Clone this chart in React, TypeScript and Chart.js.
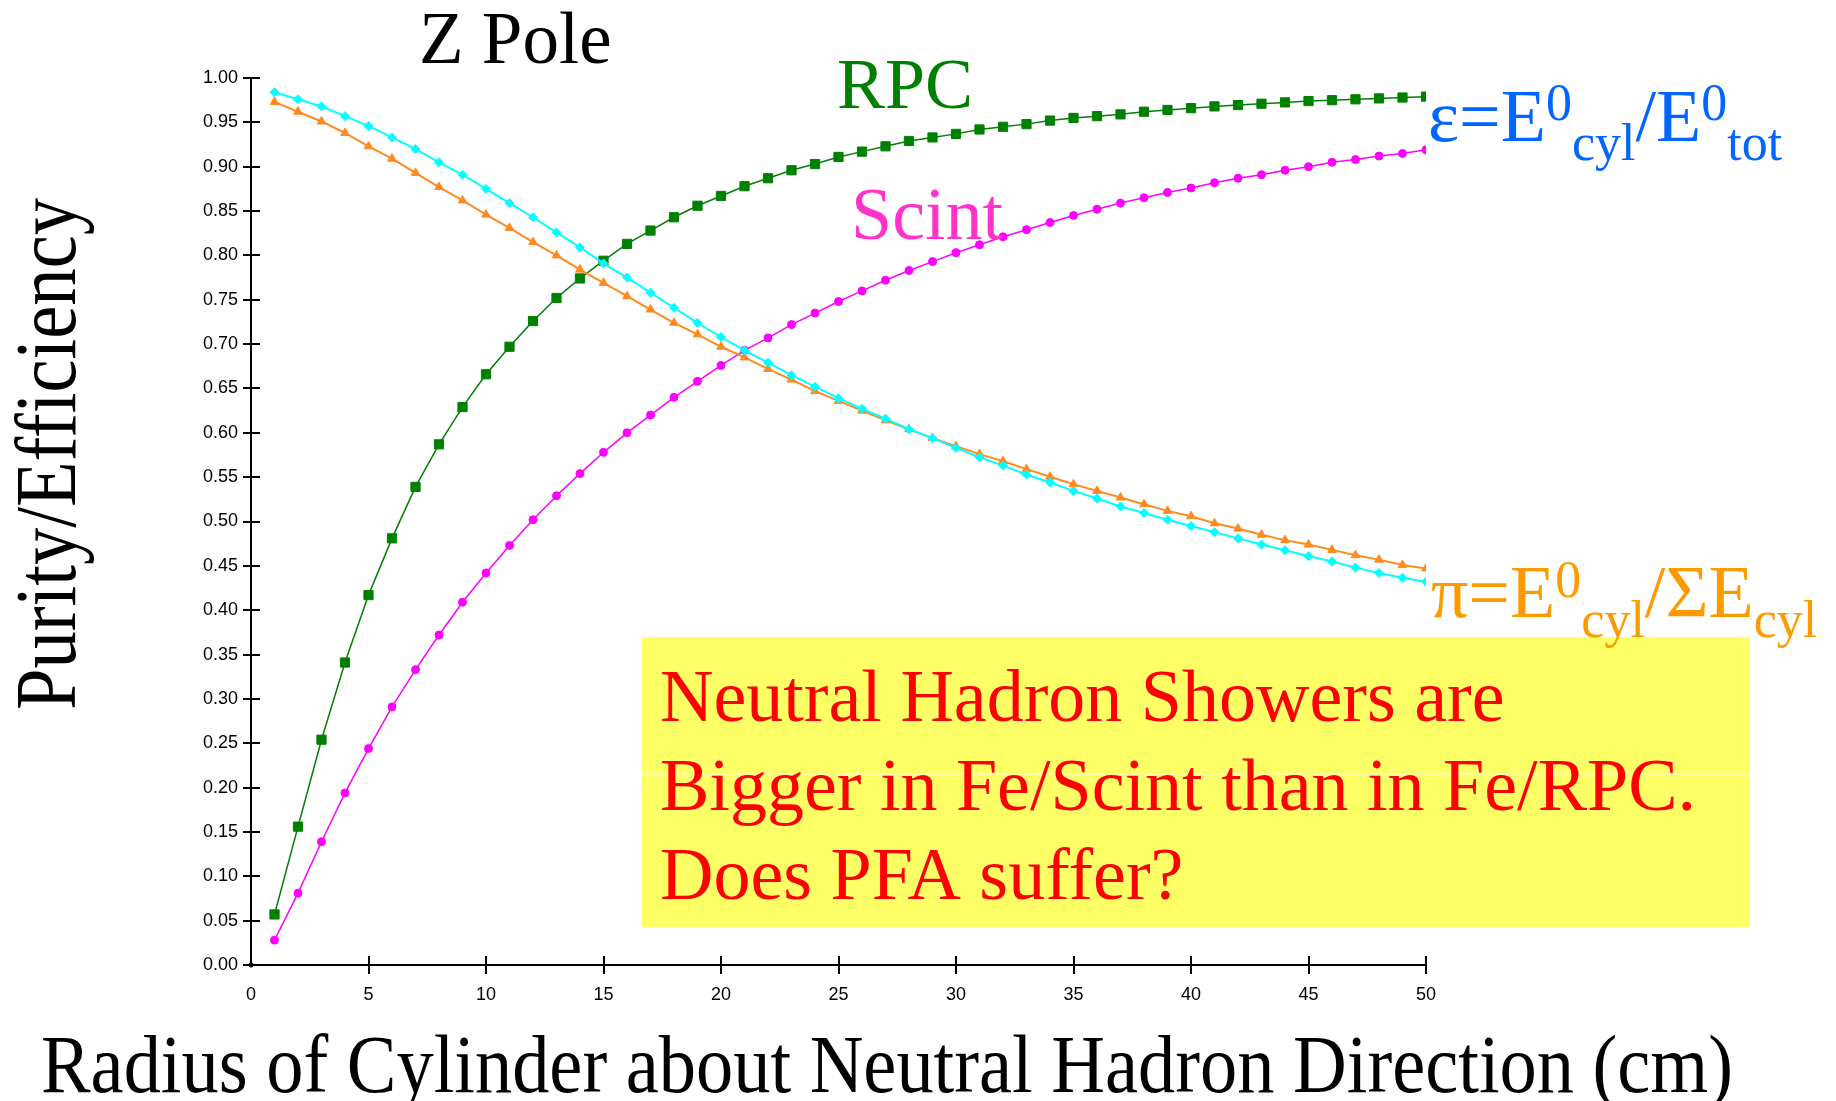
import React, { useEffect, useRef } from "react";
import { Chart, registerables } from "chart.js";

Chart.register(...registerables);

// ---------------- data ----------------
const radii = [
  1, 2, 3, 4, 5, 6, 7, 8, 9, 10, 11, 12, 13, 14, 15, 16, 17, 18, 19, 20, 21, 22, 23, 24, 25,
  26, 27, 28, 29, 30, 31, 32, 33, 34, 35, 36, 37, 38, 39, 40, 41, 42, 43, 44, 45, 46, 47, 48, 49, 50,
];

// RPC efficiency (green squares)
const rpcEff = [
  0.057, 0.156, 0.254, 0.341, 0.417, 0.481, 0.539, 0.587, 0.629, 0.666,
  0.697, 0.726, 0.752, 0.774, 0.794, 0.813, 0.828, 0.843, 0.856, 0.867,
  0.878, 0.887, 0.896, 0.903, 0.911, 0.917, 0.923, 0.929, 0.933, 0.937,
  0.942, 0.945, 0.948, 0.952, 0.955, 0.957, 0.959, 0.962, 0.964, 0.966,
  0.968, 0.9695, 0.971, 0.9725, 0.974, 0.975, 0.976, 0.977, 0.978, 0.979,
];

// Scint efficiency (magenta circles)
const scintEff = [
  0.028, 0.081, 0.139, 0.194, 0.244, 0.291, 0.333, 0.372, 0.409, 0.442,
  0.473, 0.502, 0.529, 0.554, 0.578, 0.600, 0.620, 0.640, 0.658, 0.676,
  0.693, 0.707, 0.722, 0.735, 0.748, 0.760, 0.772, 0.783, 0.793, 0.803,
  0.812, 0.821, 0.829, 0.837, 0.845, 0.852, 0.859, 0.865, 0.871, 0.876,
  0.882, 0.887, 0.891, 0.896, 0.900, 0.905, 0.908, 0.912, 0.915, 0.919,
];

// Scint purity (cyan diamonds)
const scintPur = [
  0.984, 0.976, 0.968, 0.957, 0.946, 0.933, 0.920, 0.905, 0.891, 0.875,
  0.859, 0.843, 0.826, 0.809, 0.791, 0.775, 0.758, 0.741, 0.724, 0.708,
  0.693, 0.679, 0.665, 0.652, 0.639, 0.627, 0.616, 0.604, 0.594, 0.583,
  0.5725, 0.563, 0.553, 0.544, 0.5345, 0.526, 0.517, 0.5095, 0.502, 0.495,
  0.488, 0.481, 0.474, 0.4676, 0.461, 0.455, 0.448, 0.442, 0.4366, 0.432,
];

// RPC purity (orange triangles)
const rpcPur = [
  0.973, 0.962, 0.951, 0.938, 0.923, 0.909, 0.893, 0.877, 0.862, 0.846,
  0.831, 0.815, 0.800, 0.784, 0.769, 0.754, 0.739, 0.724, 0.711, 0.697,
  0.685, 0.672, 0.660, 0.647, 0.636, 0.625, 0.614, 0.604, 0.594, 0.585,
  0.576, 0.568, 0.559, 0.5505, 0.542, 0.5345, 0.527, 0.5195, 0.512, 0.506,
  0.498, 0.492, 0.485, 0.479, 0.474, 0.468, 0.462, 0.457, 0.451, 0.447,
];

const xTicks = [0, 5, 10, 15, 20, 25, 30, 35, 40, 45, 50];
const yTicks = [
  0.0, 0.05, 0.1, 0.15, 0.2, 0.25, 0.3, 0.35, 0.4, 0.45, 0.5,
  0.55, 0.6, 0.65, 0.7, 0.75, 0.8, 0.85, 0.9, 0.95, 1.0,
];

const titleText = "Z Pole";
const rpcLabel = "RPC";
const scintLabel = "Scint";
const xTitle = "Radius of Cylinder about Neutral Hadron Direction (cm)";
const yTitle = "Purity/Efficiency";
const noteLines = [
  "Neutral Hadron Showers are",
  "Bigger in Fe/Scint than in Fe/RPC.",
  "Does PFA suffer?",
];
// [text, fontSize, baselineShift]
const effFormula: [string, number, number][] = [
  ["ε", 74, 0], ["=", 74, 0], ["E", 74, 0], ["0", 52, -21], ["cyl", 52, 19],
  ["/", 74, 0], ["E", 74, 0], ["0", 52, -21], ["tot", 52, 19],
];
const purFormula: [string, number, number][] = [
  ["π", 74, 0], ["=", 74, 0], ["E", 74, 0], ["0", 52, -20], ["cyl", 52, 20],
  ["/", 74, 0], ["Σ", 74, 0], ["E", 74, 0], ["cyl", 52, 20],
];

const SERIF = '"Liberation Serif", "Times New Roman", serif';
const SANS = '"Liberation Sans", Arial, sans-serif';

function drawRuns(ctx: CanvasRenderingContext2D, runs: [string, number, number][], x: number, y: number, color: string) {
  ctx.fillStyle = color;
  ctx.textAlign = "left";
  ctx.textBaseline = "alphabetic";
  let cx = x;
  for (const [t, size, dy] of runs) {
    ctx.font = `${size}px ${SERIF}`;
    ctx.fillText(t, cx, y + dy);
    cx += ctx.measureText(t).width;
  }
}

function drawStretched(
  ctx: CanvasRenderingContext2D, text: string, cx: number, baseline: number,
  size: number, targetWidth: number, rotate: boolean, color: string
) {
  ctx.save();
  ctx.font = `${size}px ${SERIF}`;
  ctx.fillStyle = color;
  ctx.textAlign = "center";
  ctx.textBaseline = "alphabetic";
  const w = ctx.measureText(text).width;
  const sx = targetWidth / w;
  if (rotate) {
    ctx.translate(baseline, cx);
    ctx.rotate(-Math.PI / 2);
  } else {
    ctx.translate(cx, baseline);
  }
  ctx.scale(sx, 1);
  ctx.fillText(text, 0, 0);
  ctx.restore();
}

const overlayPlugin = {
  id: "overlay",
  beforeDatasetsDraw(chart: any) {
    const { ctx, scales } = chart;
    const xs = scales.x, ys = scales.y;
    const x0 = xs.getPixelForValue(0);
    const x50 = xs.getPixelForValue(50);
    const y0 = ys.getPixelForValue(0);
    const y1 = ys.getPixelForValue(1);
    ctx.save();
    ctx.strokeStyle = "#000";
    ctx.lineWidth = 2;
    ctx.beginPath();
    ctx.moveTo(x0, y0);
    ctx.lineTo(x50, y0);
    ctx.moveTo(x0, y0);
    ctx.lineTo(x0, y1);
    for (const v of yTicks) {
      const py = Math.round(ys.getPixelForValue(v));
      ctx.moveTo(x0 - 8, py);
      ctx.lineTo(x0 + 9, py);
    }
    for (const v of xTicks) {
      if (v === 0) continue;
      const px = Math.round(xs.getPixelForValue(v));
      ctx.moveTo(px, y0 - 9);
      ctx.lineTo(px, y0 + 9);
    }
    ctx.stroke();
    ctx.fillStyle = "#000";
    ctx.beginPath();
    ctx.arc(x0, y0, 2.5, 0, Math.PI * 2);
    ctx.fill();
    ctx.restore();
  },
  afterDatasetsDraw(chart: any) {
    const { ctx } = chart;
    ctx.save();
    // note box
    ctx.fillStyle = "#ffff66";
    ctx.fillRect(642, 637, 1107, 290);
    ctx.fillStyle = "#fffff4";
    ctx.fillRect(642, 773.5, 1107, 1);
    ctx.fillStyle = "#ff0000";
    ctx.font = `74px ${SERIF}`;
    ctx.textAlign = "left";
    ctx.textBaseline = "alphabetic";
    const baselines = [721, 810, 899];
    noteLines.forEach((l, i) => ctx.fillText(l, 660, baselines[i]));

    // labels
    ctx.fillStyle = "#000";
    ctx.font = `73px ${SERIF}`;
    ctx.fillText(titleText, 419, 63);
    ctx.fillStyle = "#008000";
    ctx.font = `72px ${SERIF}`;
    ctx.fillText(rpcLabel, 837, 108);
    ctx.fillStyle = "#ff33cc";
    ctx.font = `74px ${SERIF}`;
    ctx.fillText(scintLabel, 851, 239);

    drawRuns(ctx, effFormula, 1428, 141, "#0066ff");
    drawRuns(ctx, purFormula, 1431, 617, "#ff9900");

    // axis titles
    drawStretched(ctx, xTitle, 887, 1092, 82, 1692, false, "#000");
    drawStretched(ctx, yTitle, 454, 75, 86, 512, true, "#000");
    ctx.restore();
  },
};

export default function App() {
  const ref = useRef<HTMLCanvasElement>(null);
  useEffect(() => {
    const mk = (vals: number[]) => radii.map((r, i) => ({ x: r, y: vals[i] }));
    const chart = new Chart(ref.current as HTMLCanvasElement, {
      type: "line",
      data: {
        datasets: [
          {
            label: "Scint purity",
            data: mk(scintPur),
            borderColor: "#00ffff",
            backgroundColor: "#00ffff",
            pointStyle: "rectRot",
            pointRadius: 4.5,
            pointBorderWidth: 1,
            borderWidth: 2,
          },
          {
            label: "RPC purity",
            data: mk(rpcPur),
            borderColor: "#ff8a1f",
            backgroundColor: "#ff8a1f",
            pointStyle: "triangle",
            pointRadius: 5,
            pointBorderWidth: 1,
            borderWidth: 2,
          },
          {
            label: "Scint efficiency",
            data: mk(scintEff),
            borderColor: "#ff00ff",
            backgroundColor: "#ff00ff",
            pointStyle: "circle",
            pointRadius: 4,
            pointBorderWidth: 1,
            borderWidth: 1.5,
          },
          {
            label: "RPC efficiency",
            data: mk(rpcEff),
            borderColor: "#008000",
            backgroundColor: "#008000",
            pointStyle: "rect",
            pointRadius: 6.5,
            pointBorderWidth: 1,
            borderWidth: 1.5,
          },
        ],
      } as any,
      options: {
        responsive: false,
        animation: false,
        layout: { padding: { left: 0, top: 78, right: 410, bottom: 0 }, autoPadding: false } as any,
        plugins: { legend: { display: false }, tooltip: { enabled: false } },
        elements: { line: { tension: 0 } },
        scales: {
          x: {
            type: "linear",
            min: 0,
            max: 50,
            grid: { display: false, drawTicks: false },
            border: { display: false },
            ticks: {
              color: "#000",
              font: { family: SANS, size: 18 },
              padding: 19,
              maxRotation: 0,
              autoSkip: false,
            },
            afterBuildTicks: (s: any) => {
              s.ticks = xTicks.map((v) => ({ value: v }));
            },
            afterFit: (s: any) => {
              s.height = 136;
            },
          },
          y: {
            type: "linear",
            min: 0,
            max: 1,
            grid: { display: false, drawTicks: false },
            border: { display: false },
            ticks: {
              color: "#000",
              font: { family: SANS, size: 18 },
              padding: 13,
              autoSkip: false,
              callback: (v: any) => Number(v).toFixed(2),
            },
            afterBuildTicks: (s: any) => {
              s.ticks = yTicks.map((v) => ({ value: v }));
            },
            afterFit: (s: any) => {
              s.width = 251;
            },
          },
        },
      } as any,
      plugins: [overlayPlugin],
    });
    return () => chart.destroy();
  }, []);
  return (
    <div style={{ position: "fixed", left: 0, top: 0, width: 1836, height: 1101, background: "#fff" }}>
      <canvas ref={ref} width={1836} height={1101} style={{ width: 1836, height: 1101, display: "block" }} />
    </div>
  );
}
